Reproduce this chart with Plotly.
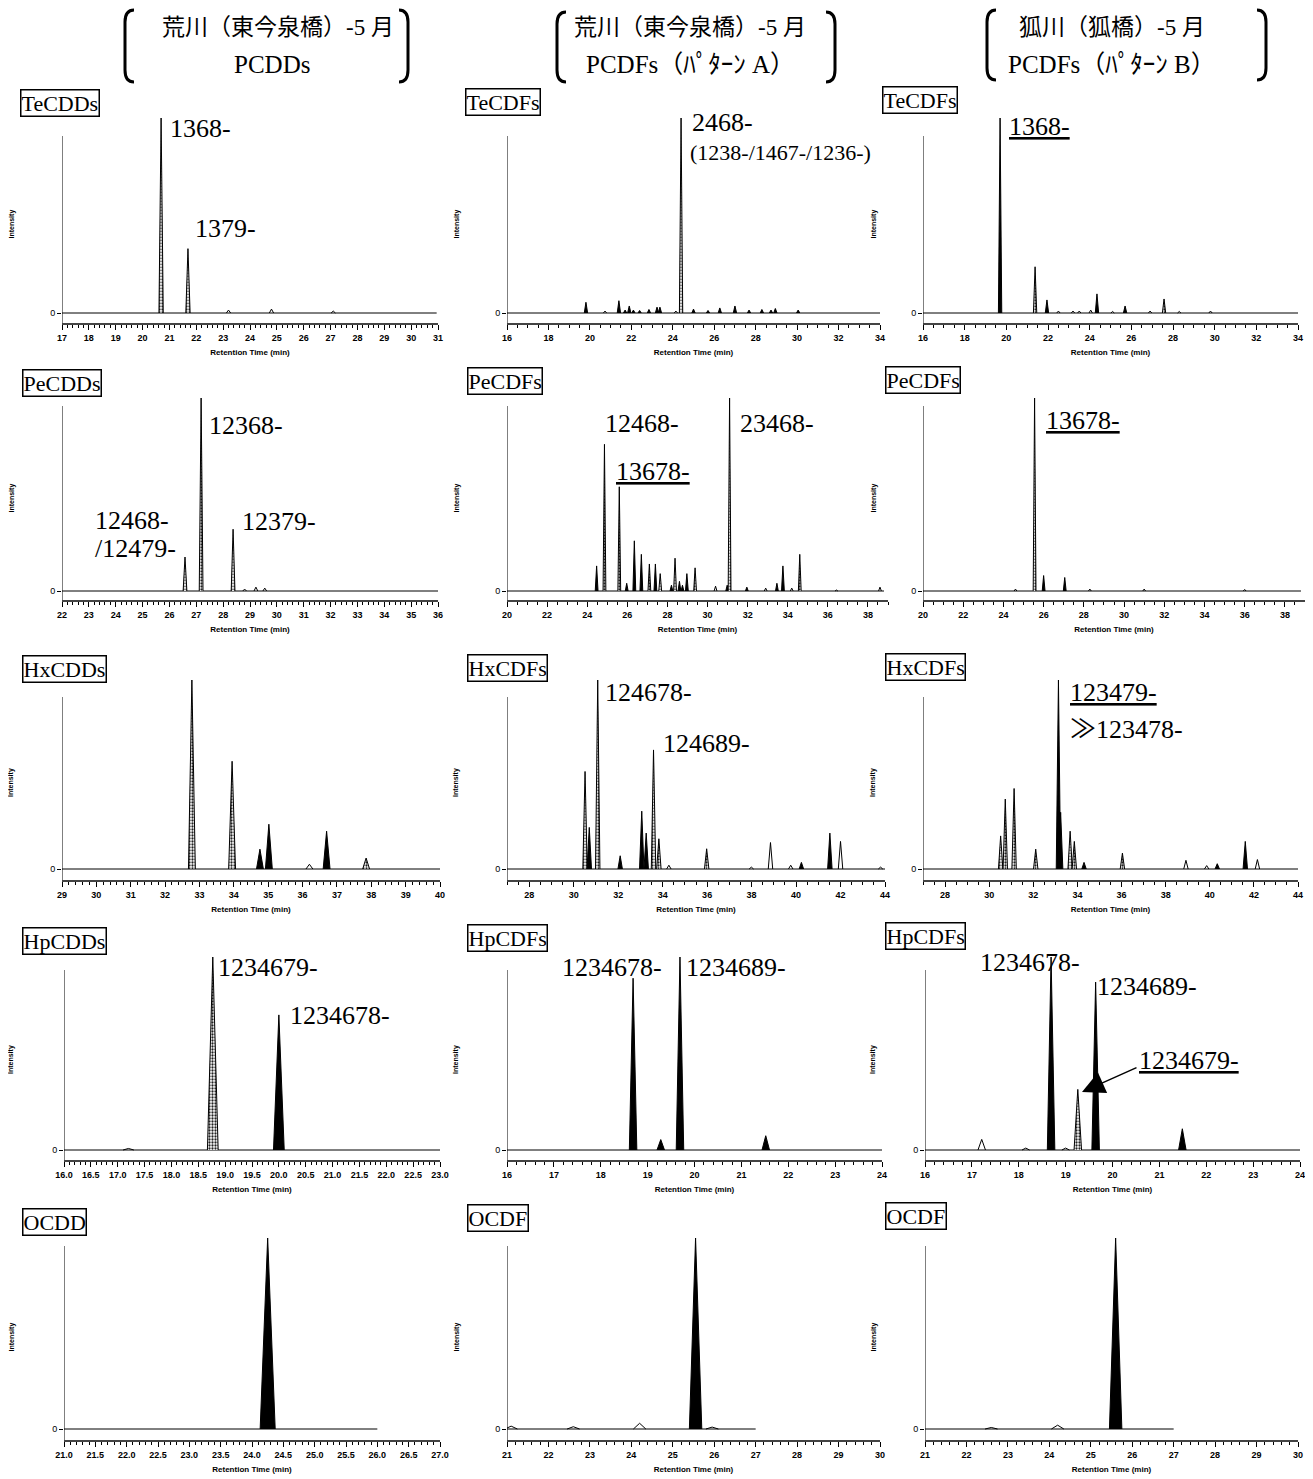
import plotly.graph_objects as go

W, H = 1313, 1479
PAGE_OFFSET = 8  # the html body margin moves the figure by this many pixels

# ---------------------------------------------------------------------------
# peak tables: retention time (min), relative intensity (% of largest peak)
# kind: "b" = black filled, "d" = dotted (hatched), "o" = open outline
# ---------------------------------------------------------------------------
tecdd_rt = [20.69, 21.69, 23.2, 24.8, 27.1]
tecdd_h = [100, 33, 1.5, 2, 1]
tecdd_kind = ["d", "d", "o", "o", "o"]

tecdf_a_rt = [19.81, 20.73, 21.4, 21.7, 21.9, 22.1, 22.4, 22.85, 23.24, 23.38, 24.15,
              24.4, 25.0, 25.7, 26.27, 27.0, 27.68, 28.3, 28.74, 28.95, 30.05]
tecdf_a_h = [5.5, 1, 6.3, 1.5, 3.6, 1.5, 1.3, 1.8, 3, 3, 1,
             100, 2, 1.3, 2.6, 3.6, 1.5, 1.8, 1.5, 2.3, 1.5]
tecdf_a_kind = ["b", "o", "b", "b", "b", "b", "b", "b", "b", "b", "o",
                "d", "b", "b", "b", "b", "b", "b", "b", "b", "b"]

tecdf_b_rt = [19.7, 21.38, 21.95, 22.5, 23.2, 23.5, 24.05, 24.35, 25.1, 25.7, 26.9, 27.57, 28.3, 29.8]
tecdf_b_h = [100, 23.7, 6.7, 1, 1, 1, 1.5, 9.8, 0.8, 3.6, 1, 7.2, 0.8, 1]
tecdf_b_kind = ["b", "d", "b", "o", "o", "o", "o", "b", "o", "b", "o", "d", "o", "o"]

pecdd_rt = [26.58, 27.18, 28.37, 28.8, 29.22, 29.55]
pecdd_h = [17.6, 100, 32, 1, 2, 1.5]
pecdd_kind = ["d", "d", "d", "o", "o", "o"]

pecdf_a_rt = [24.47, 24.86, 25.6, 25.97, 26.35, 26.7, 27.1, 27.4, 27.64, 28.2, 28.38, 28.6, 28.75,
              28.97, 29.38, 30.4, 30.98, 31.1, 31.96, 32.9, 33.46, 33.76, 34.2, 34.6, 36.43, 38.6]
pecdf_a_h = [13, 76, 54, 4, 26, 19, 14, 14, 9, 3, 17, 5, 3,
             9, 12, 2.5, 3, 100, 2, 1.5, 4, 13, 1.5, 19, 0.5, 2]
pecdf_a_kind = ["b", "d", "d", "b", "b", "b", "d", "b", "d", "b", "d", "b", "b",
                "b", "d", "o", "b", "d", "b", "o", "b", "b", "o", "d", "o", "o"]

pecdf_b_rt = [24.6, 25.55, 26.0, 27.05, 28.3, 31.0, 36.0]
pecdf_b_h = [1, 100, 8, 7, 1, 1, 0.8]
pecdf_b_kind = ["o", "d", "b", "b", "o", "o", "o"]

hxcdd_rt = [32.78, 33.95, 34.76, 35.02, 36.2, 36.7, 37.85]
hxcdd_h = [100, 57, 10.5, 23.7, 2.5, 20, 5.8]
hxcdd_kind = ["d", "d", "b", "b", "o", "b", "d"]

hxcdf_a_rt = [30.51, 30.70, 31.08, 32.09, 33.06, 33.26, 33.59, 33.83, 34.28,
              35.98, 37.99, 38.85, 39.76, 40.24, 41.52, 42.0, 43.8]
hxcdf_a_h = [51.6, 22, 100, 7, 30.6, 19, 63, 16, 2, 10.7, 1, 14, 2, 3.5, 19, 14.6, 1]
hxcdf_a_kind = ["d", "b", "d", "b", "b", "b", "d", "d", "o",
                "d", "o", "o", "o", "b", "b", "o", "o"]

hxcdf_b_rt = [30.52, 30.73, 31.13, 32.11, 33.14, 33.24, 33.67, 33.86, 34.3,
              36.04, 38.92, 39.86, 40.34, 41.61, 42.16]
hxcdf_b_h = [17.5, 37, 42.6, 10.5, 100, 30, 20, 14.6, 3.5, 8.4, 4.6, 1.8, 2.8, 14.6, 5]
hxcdf_b_kind = ["d", "d", "d", "d", "b", "b", "d", "d", "b", "d", "o", "o", "b", "b", "o"]

hpcdd_rt = [17.2, 18.77, 20.0]
hpcdd_h = [0.8, 100, 70]
hpcdd_kind = ["o", "d", "b"]

hpcdf_a_rt = [18.69, 19.28, 19.69, 21.52]
hpcdf_a_h = [89, 5.4, 100, 7.4]
hpcdf_a_kind = ["b", "b", "b", "b"]

hpcdf_b_rt = [17.21, 18.15, 18.69, 19.0, 19.26, 19.64, 21.49]
hpcdf_b_h = [5.5, 1, 100, 1, 31.4, 87, 11]
hpcdf_b_kind = ["o", "o", "b", "o", "d", "b", "b"]

ocdd_rt = [24.25]
ocdd_h = [100]
ocdd_kind = ["b"]

ocdf_a_rt = [21.1, 22.6, 24.2, 25.55, 25.95]
ocdf_a_h = [1.5, 1.2, 3, 100, 1]
ocdf_a_kind = ["o", "o", "o", "b", "o"]

ocdf_b_rt = [22.6, 24.2, 25.6]
ocdf_b_h = [0.8, 2, 100]
ocdf_b_kind = ["o", "o", "b"]

# recorded window of each chromatogram (min)
windows = [(17, 30.95), (16, 34.1), (16, 34), (22, 36), (20, 38.8), (20, 38.8),
           (29, 40), (27, 44), (27, 44), (16, 23), (16, 24), (16, 24),
           (21, 26), (21, 27), (21, 27)]

homolog_names = ["TeCDDs", "TeCDFs", "TeCDFs", "PeCDDs", "PeCDFs", "PeCDFs",
                 "HxCDDs", "HxCDFs", "HxCDFs", "HpCDDs", "HpCDFs", "HpCDFs",
                 "OCDD", "OCDF", "OCDF"]

header_site = ["荒川（東今泉橋）-5 月", "荒川（東今泉橋）-5 月", "狐川（狐橋）-5 月"]
header_group = ["PCDDs", "PCDFs（ﾊﾟﾀｰﾝ A）", "PCDFs（ﾊﾟﾀｰﾝ B）"]

peak_data = [
    (tecdd_rt, tecdd_h, tecdd_kind), (tecdf_a_rt, tecdf_a_h, tecdf_a_kind), (tecdf_b_rt, tecdf_b_h, tecdf_b_kind),
    (pecdd_rt, pecdd_h, pecdd_kind), (pecdf_a_rt, pecdf_a_h, pecdf_a_kind), (pecdf_b_rt, pecdf_b_h, pecdf_b_kind),
    (hxcdd_rt, hxcdd_h, hxcdd_kind), (hxcdf_a_rt, hxcdf_a_h, hxcdf_a_kind), (hxcdf_b_rt, hxcdf_b_h, hxcdf_b_kind),
    (hpcdd_rt, hpcdd_h, hpcdd_kind), (hpcdf_a_rt, hpcdf_a_h, hpcdf_a_kind), (hpcdf_b_rt, hpcdf_b_h, hpcdf_b_kind),
    (ocdd_rt, ocdd_h, ocdd_kind), (ocdf_a_rt, ocdf_a_h, ocdf_a_kind), (ocdf_b_rt, ocdf_b_h, ocdf_b_kind),
]

# ---------------------------------------------------------------------------
# layout geometry (screen pixels)
# ---------------------------------------------------------------------------
# per row: tallest peak top, y-axis line top, baseline, x-axis line
ROWS = [(118, 136, 313, 323), (398, 406, 591, 600), (680, 697, 869, 880),
        (957, 970, 1150, 1160), (1238, 1246, 1429, 1440)]
# per row: x pixel extent of each column's axis
COLS = [[(62, 438), (507, 880), (923, 1298)],
        [(62, 438), (507, 888), (923, 1305)],
        [(62, 440), (507, 885), (923, 1298)],
        [(64, 440), (507, 882), (925, 1300)],
        [(64, 440), (507, 880), (925, 1298)]]
# axis ranges, first labelled tick, major/minor tick step, label format
XAXES = [
    [(17, 31, 17, 1, 0.2, "d"), (16, 34, 16, 2, 0.5, "d"), (16, 34, 16, 2, 0.5, "d")],
    [(22, 36, 22, 1, 0.2, "d"), (20, 39, 20, 2, 0.5, "d"), (20, 39, 20, 2, 0.5, "d")],
    [(29, 40, 29, 1, 0.2, "d"), (27, 44, 28, 2, 0.5, "d"), (27, 44, 28, 2, 0.5, "d")],
    [(16, 23, 16, 0.5, 0.1, ".1f"), (16, 24, 16, 1, 0.2, "d"), (16, 24, 16, 1, 0.2, "d")],
    [(21, 27, 21, 0.5, 0.1, ".1f"), (21, 30, 21, 1, 0.2, "d"), (21, 30, 21, 1, 0.2, "d")],
]
HALF_WIDTH = [0.08, 0.08, 0.08, 0.07, 0.07, 0.07, 0.1, 0.1, 0.1,
              0.1, 0.08, 0.08, 0.12, 0.15, 0.15]
BOX_POS = [[(20, 103), (465, 102), (882, 100)],
           [(22, 383), (467, 381), (885, 380)],
           [(22, 669), (467, 668), (885, 667)],
           [(22, 941), (467, 938), (885, 936)],
           [(22, 1222), (467, 1218), (885, 1216)]]
INTENSITY_X = [11, 456, 873]

# peak labels: (panel index, text, left px, centre px, font size)
PEAK_LABELS = [
    (0, "1368-", 168, 128, 26), (0, "1379-", 193, 228, 26),
    (1, "2468-", 690, 123, 26), (1, "(1238-/1467-/1236-)", 688, 152, 22),
    (2, "<u>1368-</u>", 1007, 126, 26),
    (3, "12368-", 207, 425, 26), (3, "12468-", 93, 520, 26), (3, "/12479-", 93, 548, 26),
    (3, "12379-", 240, 521, 26),
    (4, "12468-", 603, 423, 26), (4, "<u>13678-</u>", 614, 471, 26), (4, "23468-", 738, 423, 26),
    (5, "<u>13678-</u>", 1044, 421, 26),
    (7, "124678-", 603, 692, 26), (7, "124689-", 661, 743, 26),
    (8, "<u>123479-</u>", 1068, 692, 26), (8, "≫123478-", 1068, 729, 26),
    (9, "1234679-", 216, 967, 26), (9, "1234678-", 288, 1015, 26),
    (10, "1234678-", 560, 967, 26), (10, "1234689-", 684, 967, 26),
    (11, "1234678-", 978, 963, 26), (11, "1234689-", 1095, 987, 26),
    (11, "<u>1234679-</u>", 1137, 1060, 26),
]

SERIF = "Liberation Serif, Noto Sans CJK JP, serif"
SANS = "Liberation Sans Narrow, Liberation Sans, Arial, sans-serif"


def px(x):
    return (x - PAGE_OFFSET) / W


def py(y):
    return 1 - (y - PAGE_OFFSET) / H


fig = go.Figure()
annotations = []
shapes = []

for i, (rts, hs, kinds) in enumerate(peak_data):
    r, c = divmod(i, 3)
    n = i + 1
    xa, ya = f"x{n}", f"y{n}"
    top, axtop, base, axline = ROWS[r]
    x0px, x1px = COLS[r][c]
    xmin, xmax, tick0, dtick, minor, fmt = XAXES[r][c]
    s = (base - top) / 100.0
    ylo = -(axline - base) / s
    yhi = (base - (top - 2)) / s
    w = HALF_WIDTH[i]

    # baseline of the chromatogram
    fig.add_trace(go.Scatter(x=list(windows[i]), y=[0, 0], mode="lines",
                             line=dict(color="black", width=1), xaxis=xa, yaxis=ya,
                             hoverinfo="skip", showlegend=False))
    for rt, h, k in zip(rts, hs, kinds):
        tr = dict(x=[rt - w, rt, rt + w], y=[0, h, 0], mode="lines",
                  line=dict(color="black", width=1), xaxis=xa, yaxis=ya,
                  hoverinfo="skip", showlegend=False)
        if k == "b":
            tr.update(fill="toself", fillcolor="black")
        elif k == "d":
            tr.update(fill="toself", fillcolor="white",
                      fillpattern=dict(shape=".", fgcolor="#222", bgcolor="white",
                                       size=3, solidity=0.45))
        fig.add_trace(go.Scatter(**tr))

    fig.layout[f"xaxis{n}"] = dict(
        domain=[px(x0px), px(x1px)], range=[xmin, xmax], anchor=ya, automargin=False,
        showline=True, linecolor="#444", linewidth=2, mirror=False,
        showgrid=False, zeroline=False,
        tick0=tick0, dtick=dtick, ticks="outside", ticklen=5, tickcolor="black",
        tickformat=fmt, tickfont=dict(family=SANS, size=9, color="black", weight="bold"),
        minor=dict(dtick=minor, ticks="outside", ticklen=3, tickcolor="black"),
        title=dict(text="Retention Time (min)", standoff=8,
                   font=dict(family=SANS, size=8, color="black", weight="bold")),
    )
    fig.layout[f"yaxis{n}"] = dict(
        domain=[py(axline), py(top - 2)], range=[ylo, yhi], anchor=xa, automargin=False,
        showline=False, showgrid=False, zeroline=False,
        tickvals=[0], ticktext=["0"], ticks="outside", ticklen=4, tickcolor="black",
        tickfont=dict(family=SANS, size=9, color="black"),
    )
    # vertical intensity axis line
    shapes.append(dict(type="line", xref=xa, yref=ya, x0=xmin, x1=xmin,
                       y0=ylo, y1=(base - axtop) / s,
                       line=dict(color="black", width=1)))
    # homolog name box
    bx, by = BOX_POS[r][c]
    annotations.append(dict(text=homolog_names[i], x=px(bx), y=py(by), xref="paper", yref="paper",
                            xanchor="left", yanchor="middle", showarrow=False,
                            font=dict(family=SERIF, size=22, color="black"),
                            bordercolor="black", borderwidth=1.5, borderpad=0, bgcolor="white"))
    # intensity title
    annotations.append(dict(text="Intensity", x=px(INTENSITY_X[c]), y=py((axtop + base) / 2),
                            xref="paper", yref="paper", textangle=-90, showarrow=False,
                            xanchor="center", yanchor="middle",
                            font=dict(family=SANS, size=7, color="black", weight="bold")))

for i, text, lx, ly, fs in PEAK_LABELS:
    annotations.append(dict(text=text, x=px(lx), y=py(ly), xref="paper", yref="paper",
                            xanchor="left", yanchor="middle", showarrow=False,
                            font=dict(family=SERIF, size=fs, color="black")))

# arrow pointing to 1234679- in pattern B HpCDFs
annotations.append(dict(text="", x=px(1082), y=py(1092), xref="paper", yref="paper",
                        ax=56, ay=-25, showarrow=True, arrowhead=2, arrowsize=3,
                        arrowwidth=1.5, arrowcolor="black", standoff=0))

# column headers with brackets
HEAD_CX = [(278, 272), (690, 690), (1112, 1112)]
BRACKETS = [(125, 408, 10, 82), (557, 835, 12, 82), (987, 1266, 10, 80)]
for c in range(3):
    cx1, cx2 = HEAD_CX[c]
    annotations.append(dict(text=header_site[c], x=px(cx1), y=py(28), xref="paper", yref="paper",
                            xanchor="center", yanchor="middle", showarrow=False,
                            font=dict(family=SERIF, size=23, color="black")))
    annotations.append(dict(text=header_group[c], x=px(cx2), y=py(65), xref="paper", yref="paper",
                            xanchor="center", yanchor="middle", showarrow=False,
                            font=dict(family=SERIF, size=25, color="black")))
    bl, br, bt, bb = BRACKETS[c]
    for xe, d in ((bl, 1), (br, -1)):
        path = (f"M {px(xe + 9 * d)} {py(bt)} Q {px(xe)} {py(bt)} {px(xe)} {py(bt + 12)} "
                f"L {px(xe)} {py(bb - 12)} Q {px(xe)} {py(bb)} {px(xe + 9 * d)} {py(bb)}")
        shapes.append(dict(type="path", xref="paper", yref="paper", path=path,
                           line=dict(color="black", width=3)))

fig.update_layout(
    template="none",
    width=W, height=H, margin=dict(l=0, r=0, t=0, b=0, autoexpand=False),
    paper_bgcolor="white", plot_bgcolor="white",
    font=dict(family=SERIF, color="black"),
    annotations=annotations, shapes=shapes, showlegend=False,
)

fig.write_html("out.html")
